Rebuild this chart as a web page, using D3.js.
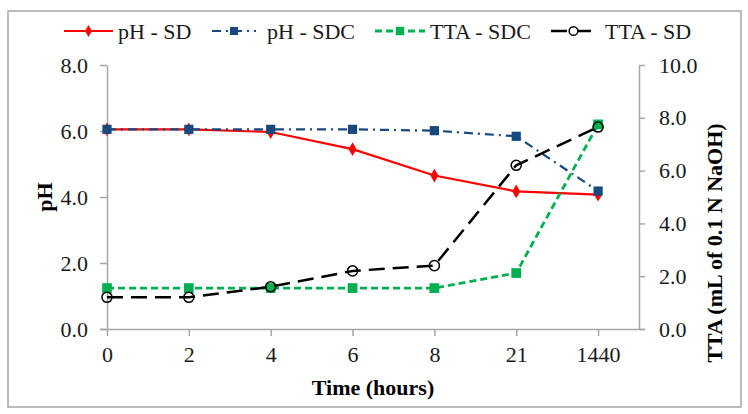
<!DOCTYPE html>
<html>
<head>
<meta charset="utf-8">
<script src="https://cdn.jsdelivr.net/npm/d3@7"></script>
<style>
  html, body { margin: 0; padding: 0; background: #fff; }
  svg { display: block; font-family: "Liberation Serif", "Times New Roman", serif; }
</style>
</head>
<body>
<svg id="chart" width="748" height="414"></svg>
<script>
const categories = ["0", "2", "4", "6", "8", "21", "1440"];
const phSD  = [6.05, 6.05, 5.97, 5.45, 4.65, 4.17, 4.07];
const phSDC = [6.05, 6.05, 6.05, 6.05, 6.01, 5.84, 4.18];
const ttaSDC = [1.55, 1.55, 1.55, 1.55, 1.55, 2.12, 7.75];
const ttaSD  = [1.2, 1.2, 1.6, 2.2, 2.4, 6.2, 7.65];
const phTicks = [0, 2, 4, 6, 8];
const ttaTicks = [0, 2, 4, 6, 8, 10];

(function () {
const svg = d3.select("#chart");
const pLeft = 107, pRight = 639, pTop = 65, pBottom = 329;

svg.append("rect").attr("x", 8).attr("y", 11).attr("width", 733).attr("height", 396)
  .attr("fill", "none").attr("stroke", "#a6a6a6").attr("stroke-width", 1.5);

const x = d3.scalePoint().domain(categories)
  .range([pLeft, pLeft + (pRight - pLeft) * 6 / 6.5]);
const yL = d3.scaleLinear().domain([0, 8]).range([pBottom, pTop]);
const yR = d3.scaleLinear().domain([0, 10]).range([pBottom, pTop]);

const axisColor = "#a6a6a6";
const fs = 22;

const gL = svg.append("g").attr("transform", `translate(${pLeft},0)`)
  .call(d3.axisLeft(yL).tickValues(phTicks).tickFormat(d3.format(".1f")).tickSize(7).tickSizeOuter(0).tickPadding(12));
const gR = svg.append("g").attr("transform", `translate(${pRight},0)`)
  .call(d3.axisRight(yR).tickValues(ttaTicks).tickFormat(d3.format(".1f")).tickSize(6).tickSizeOuter(0).tickPadding(14));
const gB = svg.append("g").attr("transform", `translate(0,${pBottom})`)
  .call(d3.axisBottom(x).tickSize(7).tickSizeOuter(0).tickPadding(10));
gB.select(".domain").attr("d", `M${pLeft - 7},0.5H${pRight + 6}`);

[gL, gR, gB].forEach(g => {
  g.selectAll(".domain").attr("stroke", axisColor).attr("stroke-width", 1.5);
  g.selectAll(".tick line").attr("stroke", axisColor).attr("stroke-width", 1.5);
  g.selectAll("text").attr("font-size", fs).attr("fill", "#1a1a1a")
    .attr("font-family", "'Liberation Serif', 'Times New Roman', serif");
});

svg.append("text").attr("transform", "translate(52,197) rotate(-90)")
  .attr("text-anchor", "middle").attr("font-weight", "bold").attr("font-size", fs).text("pH");
svg.append("text").attr("transform", "translate(722,243) rotate(-90)")
  .attr("text-anchor", "middle").attr("font-weight", "bold").attr("font-size", fs)
  .text("TTA (mL of 0.1 N NaOH)");
svg.append("text").attr("x", 373).attr("y", 395)
  .attr("text-anchor", "middle").attr("font-weight", "bold").attr("font-size", fs)
  .text("Time (hours)");

const series = [
  { name: "pH - SD", values: phSD, y: yL, color: "#ff0000", dash: null, sym: d3.symbolDiamond, size: 55, fill: "#ff0000", w: 2.2 },
  { name: "pH - SDC", values: phSDC, y: yL, color: "#17497f", dash: "9,5,2,5", sym: d3.symbolSquare, size: 85, fill: "#17497f", w: 2.2 },
  { name: "TTA - SDC", values: ttaSDC, y: yR, color: "#00b050", dash: "7,4", sym: d3.symbolSquare, size: 95, fill: "#00b050", w: 2.8 },
  { name: "TTA - SD", values: ttaSD, y: yR, color: "#000000", dash: "16,8", sym: d3.symbolCircle, size: 80, fill: "none", w: 2.5 }
];

series.forEach(s => {
  const data = categories.map((c, i) => ({ c, v: s.values[i] }));
  const line = d3.line().x(d => x(d.c)).y(d => s.y(d.v));
  svg.append("path").datum(data).attr("d", line)
    .attr("fill", "none").attr("stroke", s.color).attr("stroke-width", s.w)
    .attr("stroke-dasharray", s.dash);
  svg.append("g").selectAll("path").data(data).join("path")
    .attr("transform", d => `translate(${x(d.c)},${s.y(d.v)})`)
    .attr("d", d3.symbol().type(s.sym).size(s.size))
    .attr("fill", s.fill).attr("stroke", s.fill === "none" ? s.color : "none").attr("stroke-width", 1.5);
});

const legendItems = [
  { x1: 64, x2: 113, tx: 118 },
  { x1: 212, x2: 256, tx: 267 },
  { x1: 375, x2: 425, tx: 430 },
  { x1: 551, x2: 596, tx: 605 }
];
const ly = 31;
series.forEach((s, i) => {
  const it = legendItems[i];
  const g = svg.append("g");
  g.append("line").attr("x1", it.x1).attr("x2", it.x2).attr("y1", ly).attr("y2", ly)
    .attr("stroke", s.color).attr("stroke-width", s.w).attr("stroke-dasharray", s.dash);
  g.append("path").attr("transform", `translate(${(it.x1 + it.x2) / 2},${ly})`)
    .attr("d", d3.symbol().type(s.sym).size(s.size * 0.75))
    .attr("fill", s.fill === "none" ? "#fff" : s.fill)
    .attr("stroke", s.fill === "none" ? s.color : "none").attr("stroke-width", 1.5);
  g.append("text").attr("x", it.tx).attr("y", ly + 8).attr("font-size", fs)
    .attr("fill", "#1a1a1a").text(s.name);
});
})();
</script>
</body>
</html>
